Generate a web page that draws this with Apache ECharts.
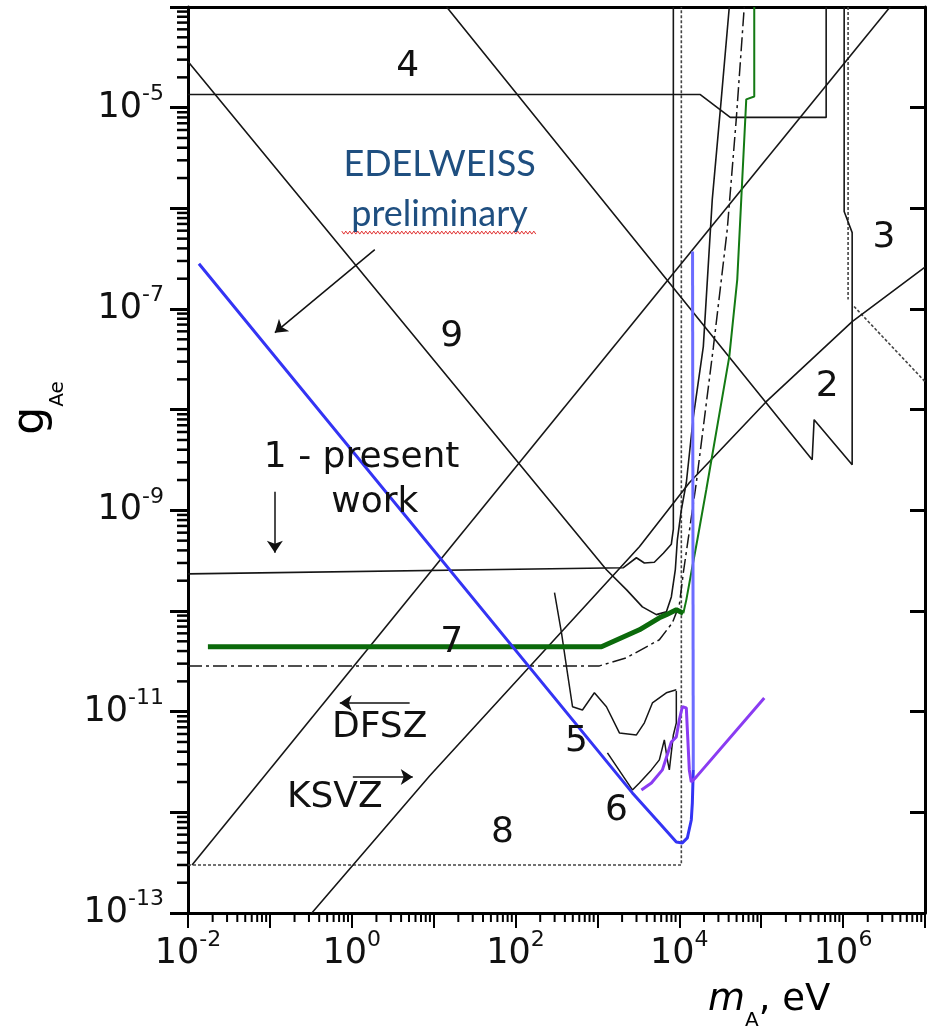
<!DOCTYPE html>
<html>
<head>
<meta charset="utf-8">
<script src="https://cdn.jsdelivr.net/npm/echarts@6/dist/echarts.min.js"></script>
<style>
html, body { margin: 0; padding: 0; background: #fff; }
#chart { width: 928px; height: 1031px; }
</style>
</head>
<body>
<div id="chart"></div>
<script>
// axis ranges and labelled decades
const xMin = 1e-2, xMax = 1e7;
const yMin = 1e-13, yMax = 1e-4;
const xLabelExp = [-2, 0, 2, 4, 6];
const yLabelExp = [-13, -11, -9, -7, -5];

// curves: [m_A (eV), g_Ae]
const presentWork = [[0.01, 2.34e-10], [2075, 2.69e-10], [2990, 3.38e-10], [3740, 3.0e-10], [4950, 3.05e-10],
  [6380, 3.75e-10], [7980, 4.6e-10], [8450, 6.5e-10], [8450, 1e-4]];
const curve9 = [[0.01, 2.88e-5], [1288, 2.57e-10], [2258, 1.63e-10], [3540, 1.10e-10], [5244, 9.2e-11],
  [6935, 9.8e-11], [7985, 1.38e-10], [8935, 2.57e-10], [9457, 5.1e-10], [10580, 1.01e-9], [12170, 1.88e-9],
  [14830, 8.5e-9], [19630, 4.23e-8], [25240, 1.22e-6], [32500, 1.21e-5], [40740, 1e-4]];
const curve2 = [[14.4, 1e-4], [418800, 3.18e-9], [442600, 7.96e-9], [1.29e6, 2.84e-9], [1.29e6, 5.74e-7],
  [1.03e6, 9.3e-7], [1.03e6, 1e-4]];
const curve4 = [[0.01, 1.35e-5], [18030, 1.35e-5], [41880, 8.0e-6], [620900, 8.0e-6], [620900, 1e-4]];
const dfsz = [[0.0112, 3e-13], [3.74e6, 1e-4]];
const ksvz = [[0.325, 1e-13], [8.9, 2.3e-12], [3252, 4.35e-10], [13240, 1.88e-9], [115100, 1.2e-8],
  [1.29e6, 7.5e-8], [1e7, 2.6e-7]];
const curve7 = [[0.01, 2.85e-11], [1058, 2.85e-11], [2258, 3.43e-11], [5702, 5.18e-11], [8218, 7.64e-11],
  [10000, 1.15e-10], [11190, 2.4e-10], [16120, 1.88e-9], [26000, 4.13e-8], [38460, 6.15e-7],
  [49550, 7.64e-6], [62050, 1e-4]];
const curve5 = [[299, 1.52e-10], [364, 6.07e-11], [419, 2.79e-11], [496, 1.12e-11], [656, 1.04e-11],
  [918, 1.54e-11], [1288, 1.12e-11], [1854, 6.15e-12], [2992, 5.87e-12], [3743, 7.75e-12],
  [4689, 1.22e-11], [6935, 1.54e-11], [9187, 1.65e-11]];
const curve6 = [[1324, 3.89e-12], [2673, 1.67e-12], [3252, 1.96e-12], [4560, 2.64e-12], [5702, 3.32e-12],
  [6560, 5.25e-12], [7139, 3.32e-12], [7551, 2.64e-12], [8453, 5.87e-12], [9187, 7.75e-12], [9187, 1.6e-11]];
const region8 = [[0.01, 3e-13], [10580, 3e-13], [10580, 1e-4]];
const region3a = [[1.15e6, 1e-4], [1.15e6, 1.24e-7]];
const region3b = [[1.36e6, 1.06e-7], [1e7, 1.9e-8]];
const greenFlat = [[0.0175, 4.41e-11], [1119, 4.41e-11], [3252, 6.5e-11], [5702, 8.55e-11], [6935, 9.2e-11],
  [9187, 1.03e-10], [11190, 9.5e-11]];
const greenRise = [[11190, 9.5e-11], [12170, 1.29e-10], [14420, 2.75e-10], [16600, 5.1e-10], [21330, 1.6e-9],
  [40740, 3.37e-8], [50960, 1.96e-7], [57020, 1.22e-6], [62050, 4.83e-6], [65640, 1.21e-5],
  [82200, 1.29e-5], [82200, 1e-4]];
const edelweiss = [[0.0136, 2.82e-7], [2673, 1.56e-12], [5702, 7.85e-13], [9187, 5.08e-13], [10880, 4.97e-13],
  [12530, 5.57e-13], [14000, 8.4e-13], [14420, 1.24e-12], [14800, 2.64e-12]];
const edelweissEdge = [[14800, 2.64e-12], [14500, 3.72e-7]];
const purple = [[3442, 1.67e-12], [4560, 1.96e-12], [6210, 2.64e-12], [6935, 3.48e-12], [7985, 5.0e-12],
  [9187, 5.62e-12], [10000, 8.3e-12], [10880, 1.12e-11], [12170, 1.09e-11], [12530, 6.6e-12],
  [13240, 2.64e-12], [14000, 2.0e-12], [16120, 2.25e-12], [108900, 1.37e-11]];

// annotations: [text, m_A, g_Ae]
const regionLabels = [['4', 4.82, 2.57e-5], ['9', 16.6, 5.32e-8], ['3', 3.16e6, 5.13e-7], ['2', 6.38e5, 1.69e-8],
  ['7', 16.6, 4.83e-11], ['5', 554, 5.0e-12], ['6', 1706, 1.03e-12], ['8', 69.3, 6.24e-13]];
const textLabels = [['1 - present', 1.32, 3.33e-9], ['work', 1.91, 1.19e-9], ['DFSZ', 2.19, 6.9e-12],
  ['KSVZ', 0.62, 1.39e-12]];
const blueLabels = [['EDELWEISS', 11.8, 2.72e-6], ['preliminary', 11.8, 8.67e-7]];
const underline = [[0.755, 5.74e-7, 180]];
// arrows: [from m, from g, to m, to g]
const arrows = [[1.91, 3.89e-7, 0.115, 5.82e-8], [0.115, 1.53e-9, 0.115, 3.79e-10],
  [5.09, 1.22e-11, 0.714, 1.22e-11], [1.03, 2.25e-12, 5.55, 2.25e-12]];

// minor tick positions (2..9 per decade)
const minorX = [], minorY = [];
for (let e = -2; e < 7; e++) for (let k = 2; k <= 9; k++) minorX.push(k * Math.pow(10, e));
for (let e = -13; e < -4; e++) for (let k = 2; k <= 9; k++) minorY.push(k * Math.pow(10, e));

const font = 'DejaVu Sans';
const ink = '#111';
const tickRich = {
  b: { fontSize: 35, fontFamily: font, color: ink, lineHeight: 35, verticalAlign: 'bottom' },
  s: { fontSize: 22, fontFamily: font, color: ink, lineHeight: 22, padding: [0, 0, 20, 0], verticalAlign: 'bottom' }
};
const expLabel = list => v => {
  const e = Math.round(Math.log10(v));
  return list.includes(e) ? '{b|10}{s|' + e + '}' : '';
};

const chart = echarts.init(document.getElementById('chart'));

function line(data, color, width, type, z) {
  return {
    type: 'line', data: data, symbol: 'none', showSymbol: false, silent: true, z: z || 2,
    lineStyle: { color: color, width: width, type: type || 'solid', opacity: 1 }
  };
}

function textSeries(list, style) {
  return {
    type: 'scatter', symbolSize: 0, silent: true, z: 6,
    itemStyle: { opacity: 1 },
    data: list.map(d => ({ name: d[0], value: [d[1], d[2]] })),
    label: Object.assign({ show: true, position: 'inside', formatter: '{b}', opacity: 1,
      textBorderWidth: 0 }, style)
  };
}

const black = '#161616';

const option = {
  animation: false,
  grid: { left: 188, right: 2, top: 7, bottom: 118 },
  xAxis: [
    {
      type: 'log', logBase: 10, min: xMin, max: xMax, interval: 1, splitNumber: 9, position: 'bottom',
      axisLine: { onZero: false, lineStyle: { color: '#000', width: 3 } },
      axisTick: { inside: false, length: 15, lineStyle: { color: '#000', width: 2 } },
      axisLabel: { margin: 23, formatter: expLabel(xLabelExp), rich: tickRich },
      splitLine: { show: false }
    },
    {
      type: 'log', logBase: 10, min: xMin, max: xMax, position: 'top',
      axisLine: { onZero: false, lineStyle: { color: '#000', width: 3 } },
      axisTick: { show: false }, axisLabel: { show: false }, splitLine: { show: false }
    }
  ],
  yAxis: [
    {
      type: 'log', logBase: 10, min: yMin, max: yMax, interval: 1, splitNumber: 9, position: 'left',
      axisLine: { onZero: false, lineStyle: { color: '#000', width: 3 } },
      axisTick: { inside: false, length: 18, lineStyle: { color: '#000', width: 3 } },
      axisLabel: { margin: 24, formatter: expLabel(yLabelExp), rich: tickRich },
      splitLine: { show: false }
    },
    {
      type: 'log', logBase: 10, min: yMin, max: yMax, interval: 1, splitNumber: 9, position: 'right',
      axisLine: { onZero: false, lineStyle: { color: '#000', width: 3 } },
      axisTick: { inside: true, length: 15, lineStyle: { color: '#000', width: 3 } },
      axisLabel: { show: false }, splitLine: { show: false }
    }
  ],
  graphic: [
    {
      type: 'text', x: 39, y: 408, rotation: Math.PI / 2, z: 10,
      style: {
        text: '{g|g}{s|Ae}', align: 'center', verticalAlign: 'middle',
        rich: {
          g: { fontSize: 44, fontFamily: font, color: ink, padding: [0, 0, 14, 0], verticalAlign: 'bottom' },
          s: { fontSize: 20, fontFamily: font, color: ink, verticalAlign: 'bottom' }
        }
      }
    },
    {
      type: 'text', x: 708, y: 1006, z: 10,
      style: {
        text: '{m|m}{a|A}{t|, eV}', align: 'left', verticalAlign: 'middle',
        rich: {
          m: { fontSize: 38, fontFamily: font, fontStyle: 'italic', color: ink, padding: [0, 0, 12, 0], verticalAlign: 'bottom' },
          a: { fontSize: 20, fontFamily: font, color: ink, verticalAlign: 'bottom' },
          t: { fontSize: 37, fontFamily: font, color: ink, padding: [0, 0, 12, 0], verticalAlign: 'bottom' }
        }
      }
    }
  ],
  series: [
    line(region8, '#444', 1.6, [3, 2]),
    line(region3a, '#444', 1.6, [3, 2]),
    line(region3b, '#444', 1.6, [3, 2]),
    line(curve4, black, 1.6),
    line(curve9, black, 1.6),
    line(curve2, black, 1.6),
    line(dfsz, black, 1.6),
    line(ksvz, black, 1.6),
    line(presentWork, black, 1.6),
    line(curve7, black, 1.5, [14, 4, 3, 4]),
    line(curve5, black, 1.5),
    line(curve6, black, 1.5),
    line(greenFlat, '#0b6a0b', 5, 'solid', 4),
    line(greenRise, '#137a13', 2, 'solid', 4),
    line(edelweiss, '#3434f4', 3, 'solid', 5),
    line(edelweissEdge, '#6c6cff', 3, 'solid', 5),
    line(purple, '#8a3cf2', 3, 'solid', 5),
    {
      type: 'lines', coordinateSystem: 'cartesian2d', silent: true, z: 6,
      symbol: ['none', 'arrow'], symbolSize: 12,
      lineStyle: { color: '#111', width: 1.5, opacity: 1, curveness: 0 },
      data: arrows.map(a => ({ coords: [[a[0], a[1]], [a[2], a[3]]] }))
    },
    textSeries(regionLabels, { fontFamily: font, fontSize: 36, color: ink }),
    textSeries(textLabels, { fontFamily: font, fontSize: 36, color: ink }),
    textSeries(blueLabels, { fontFamily: 'Lato', fontSize: 36, color: '#1f4f80' }),
    {
      // wavy red spell-check underline
      type: 'custom', silent: true, z: 6, clip: false,
      encode: { x: [0, 2], y: 1 },
      data: underline,
      renderItem: (params, api) => {
        const p1 = api.coord([api.value(0), api.value(1)]);
        const p2 = api.coord([api.value(2), api.value(1)]);
        const pts = [];
        for (let x = p1[0], i = 0; x <= p2[0]; x += 2, i++) pts.push([x, p1[1] + (i % 2 ? 1.5 : -1.5)]);
        return { type: 'polyline', shape: { points: pts }, style: { stroke: '#e03030', lineWidth: 1, fill: null } };
      }
    },
    {
      type: 'custom', silent: true, z: 8, clip: false,
      encode: { x: 0, y: 1 },
      data: minorX.map(v => [v, yMin]),
      renderItem: (params, api) => {
        const p = api.coord([api.value(0), api.value(1)]);
        return { type: 'line', shape: { x1: p[0], y1: p[1], x2: p[0], y2: p[1] + 9 }, style: { stroke: '#000', lineWidth: 2 } };
      }
    },
    {
      type: 'custom', silent: true, z: 8, clip: false,
      encode: { x: 0, y: 1 },
      data: minorY.map(v => [xMin, v]),
      renderItem: (params, api) => {
        const p = api.coord([api.value(0), api.value(1)]);
        return { type: 'line', shape: { x1: p[0] - 11, y1: p[1], x2: p[0], y2: p[1] }, style: { stroke: '#000', lineWidth: 2.5 } };
      }
    }
  ]
};

chart.setOption(option);
</script>
</body>
</html>
